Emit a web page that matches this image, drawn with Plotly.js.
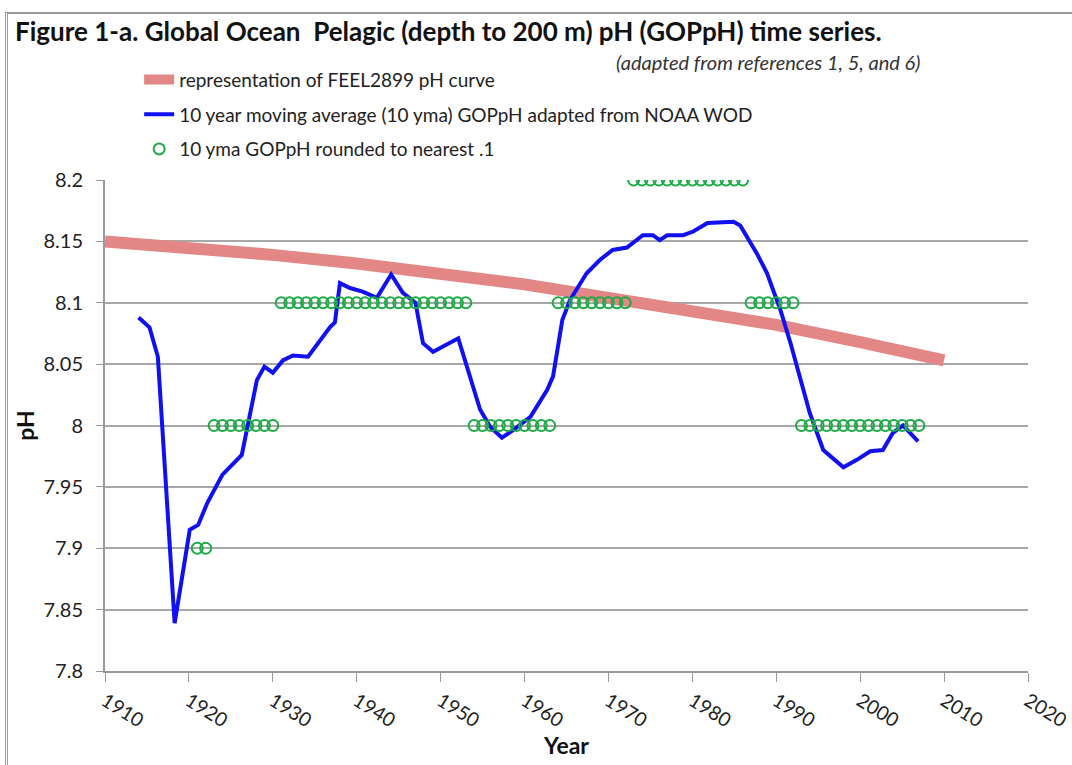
<!DOCTYPE html>
<html>
<head>
<meta charset="utf-8">
<script src="https://cdn.plot.ly/plotly-3.0.1.min.js"></script>
<style>
  html, body { margin: 0; padding: 0; background: #fff; }
  #wrap { position: relative; width: 1072px; height: 765px; }
  #chart { position: absolute; left: 0; top: 0; width: 1072px; height: 765px; }
  #frame { position: absolute; left: 5px; top: 12px; width: 1070px; height: 760px; border-left: 3px double #9a9a9a; border-top: 2px solid #9a9a9a; pointer-events: none; }
</style>
</head>
<body>
<div id="wrap">
  <div id="chart"></div>
  <div id="frame"></div>
</div>
<script>
// FEEL2899 representation curve
const feelYears = [1910, 1920, 1930, 1940, 1950, 1960, 1970, 1980, 1990, 2000, 2010];
const feelPH    = [8.150, 8.145, 8.139, 8.132, 8.124, 8.115, 8.104, 8.094, 8.082, 8.068, 8.053];

// 10 year moving average GOPpH (NOAA WOD)
const ymaYears = [1914, 1915.3, 1916.3, 1918.3, 1920.1, 1921.1, 1922.2, 1924, 1926.3, 1927.6, 1928.1, 1929, 1930,
  1931.2, 1932.4, 1934.2, 1936.8, 1937.4, 1938, 1939.2, 1940.7, 1942.4, 1944.1, 1945.5, 1947, 1947.9, 1949.1,
  1952.1, 1953.3, 1954.7, 1955.9, 1957.3, 1958.6, 1960.7, 1962.7, 1963.4, 1964.5, 1965.4, 1967.4, 1969, 1970.5,
  1972.2, 1974.1, 1975.3, 1976.1, 1977, 1978.9, 1980.1, 1981.8, 1984.9, 1985.7, 1987.7, 1988.9, 1990.5, 1991.7,
  1992.8, 1994, 1995.6, 1998, 1999.6, 2001.2, 2002.7, 2003.9, 2005.1, 2006.9];
const ymaPH = [8.088, 8.080, 8.056, 7.839, 7.915, 7.919, 7.937, 7.960, 7.976, 8.021, 8.037, 8.048, 8.043,
  8.053, 8.057, 8.056, 8.080, 8.084, 8.116, 8.112, 8.109, 8.104, 8.123, 8.108, 8.100, 8.067, 8.060,
  8.071, 8.045, 8.013, 7.999, 7.990, 7.996, 8.007, 8.029, 8.040, 8.086, 8.102, 8.124, 8.135, 8.143,
  8.145, 8.155, 8.155, 8.151, 8.155, 8.155, 8.158, 8.165, 8.166, 8.163, 8.140, 8.124, 8.094, 8.067,
  8.040, 8.010, 7.980, 7.966, 7.972, 7.979, 7.980, 7.994, 8.000, 7.987];

// 10 yma GOPpH rounded to nearest .1
const roundYears = [1921, 1922,
  1923, 1924, 1925, 1926, 1927, 1928, 1929, 1930,
  1931, 1932, 1933, 1934, 1935, 1936, 1937, 1938, 1939, 1940, 1941, 1942, 1943, 1944, 1945, 1946, 1947, 1948, 1949, 1950, 1951, 1952, 1953,
  1954, 1955, 1956, 1957, 1958, 1959, 1960, 1961, 1962, 1963,
  1964, 1965, 1966, 1967, 1968, 1969, 1970, 1971, 1972,
  1973, 1974, 1975, 1976, 1977, 1978, 1979, 1980, 1981, 1982, 1983, 1984, 1985, 1986,
  1987, 1988, 1989, 1990, 1991, 1992,
  1993, 1994, 1995, 1996, 1997, 1998, 1999, 2000, 2001, 2002, 2003, 2004, 2005, 2006, 2007];
const roundPH = [7.9, 7.9,
  8.0, 8.0, 8.0, 8.0, 8.0, 8.0, 8.0, 8.0,
  8.1, 8.1, 8.1, 8.1, 8.1, 8.1, 8.1, 8.1, 8.1, 8.1, 8.1, 8.1, 8.1, 8.1, 8.1, 8.1, 8.1, 8.1, 8.1, 8.1, 8.1, 8.1, 8.1,
  8.0, 8.0, 8.0, 8.0, 8.0, 8.0, 8.0, 8.0, 8.0, 8.0,
  8.1, 8.1, 8.1, 8.1, 8.1, 8.1, 8.1, 8.1, 8.1,
  8.2, 8.2, 8.2, 8.2, 8.2, 8.2, 8.2, 8.2, 8.2, 8.2, 8.2, 8.2, 8.2, 8.2,
  8.1, 8.1, 8.1, 8.1, 8.1, 8.1,
  8.0, 8.0, 8.0, 8.0, 8.0, 8.0, 8.0, 8.0, 8.0, 8.0, 8.0, 8.0, 8.0, 8.0, 8.0];

const xTicks = [1910, 1920, 1930, 1940, 1950, 1960, 1970, 1980, 1990, 2000, 2010, 2020];
const yTicks = [7.8, 7.85, 7.9, 7.95, 8, 8.05, 8.1, 8.15, 8.2];
const yTickText = ['7.8', '7.85', '7.9', '7.95', '8', '8.05', '8.1', '8.15', '8.2'];

const FONT = 'Lato, "Open Sans", Arial, sans-serif';

const traces = [
  {
    x: feelYears, y: feelPH, type: 'scatter', mode: 'lines',
    name: 'representation of FEEL2899 pH curve', legendgroup: 'a',
    line: { color: 'rgb(226,134,134)', width: 12 },
    hoverinfo: 'x+y'
  },
  {
    x: ymaYears, y: ymaPH, type: 'scatter', mode: 'lines',
    name: '10 year moving average (10 yma) GOPpH adapted from NOAA WOD', legendgroup: 'b',
    line: { color: 'rgb(16,16,240)', width: 4 },
    hoverinfo: 'x+y'
  },
  {
    x: roundYears, y: roundPH, type: 'scatter', mode: 'markers',
    name: '10 yma GOPpH rounded to nearest .1', legendgroup: 'c',
    marker: { symbol: 'circle-open', size: 11, color: 'rgb(30,170,70)', line: { width: 2, color: 'rgb(30,170,70)' } },
    hoverinfo: 'x+y'
  }
];

const layout = {
  width: 1072, height: 765,
  paper_bgcolor: 'rgba(0,0,0,0)', plot_bgcolor: '#fff',
  margin: { l: 105, r: 44, t: 180, b: 94 },
  font: { family: FONT, size: 19, color: '#222' },
  title: {
    text: '<b>Figure 1-a. Global Ocean  Pelagic (depth to 200 m) pH (GOPpH) time series.</b>',
    font: { family: FONT, size: 26, color: '#111' },
    xref: 'container', x: 15 / 1072, xanchor: 'left',
    yref: 'container', y: 1 - 32 / 765, yanchor: 'middle'
  },
  showlegend: true,
  legend: {
    x: 0.037, xanchor: 'left', y: 1.243, yanchor: 'top',
    bgcolor: 'rgba(0,0,0,0)', borderwidth: 0,
    font: { family: FONT, size: 19, color: '#222' },
    tracegroupgap: 7, itemwidth: 30
  },
  xaxis: {
    range: [1910, 2020], tickvals: xTicks, ticktext: xTicks.map(String),
    tickangle: 32, ticks: 'outside', ticklen: 9, tickcolor: '#999',
    ticklabeloverflow: 'allow',
    showline: true, linecolor: '#999', linewidth: 2, showgrid: false, zeroline: false,
    tickfont: { family: FONT, size: 19.5, color: '#222' },
    title: { text: '<b>Year</b>', font: { family: FONT, size: 23, color: '#111' }, standoff: 3 }
  },
  yaxis: {
    range: [7.8, 8.2], tickvals: yTicks, ticktext: yTickText,
    ticks: 'outside', ticklen: 7, tickcolor: '#999', ticklabelstandoff: 9,
    showline: true, linecolor: '#999', linewidth: 2,
    showgrid: true, gridcolor: '#a8a8a8', gridwidth: 1.5, zeroline: false,
    tickfont: { family: FONT, size: 20, color: '#222' },
    title: { text: '<b>pH</b>', font: { family: FONT, size: 23, color: '#111' }, standoff: 2 }
  },
  annotations: [
    {
      text: '<i>(adapted from references 1, 5, and 6)</i>',
      xref: 'paper', yref: 'paper',
      x: (922 - 105) / 923, xanchor: 'right',
      y: 1 + (180 - 62) / 491, yanchor: 'middle',
      showarrow: false, font: { family: FONT, size: 20, color: '#333' }
    }
  ]
};

Plotly.newPlot('chart', traces, layout, { displayModeBar: false, responsive: false });
</script>
</body>
</html>
